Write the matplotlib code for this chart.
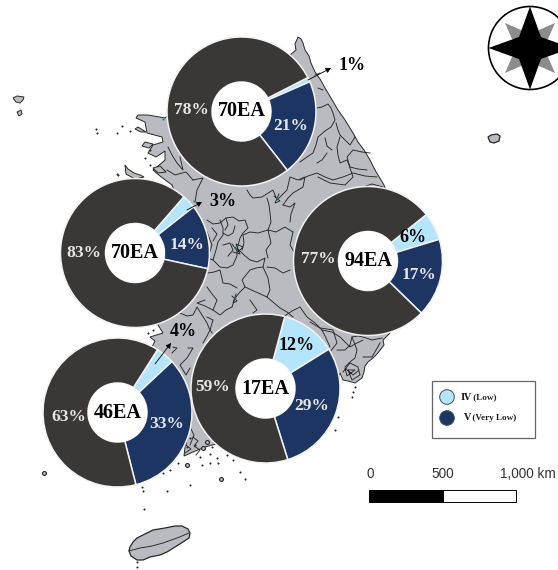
import matplotlib
matplotlib.use("Agg")
import matplotlib.pyplot as plt
from matplotlib.patches import Circle, Polygon, Rectangle

W, H = 558, 570

# donut values (%), one entry per region
regions = ["top", "left", "right", "low_left", "low_mid"]
ea_labels = ["70EA", "70EA", "94EA", "46EA", "17EA"]
low_pct = [1, 3, 6, 4, 12]
very_low_pct = [21, 14, 17, 33, 29]
other_pct = [78, 83, 77, 63, 59]

legend_labels = ["Ⅳ (Low)", "Ⅴ (Very Low)"]
scale_labels = ["0", "500", "1,000 km"]

# donut placement in picture pixels
centers = [(241.5, 111.5), (135, 253), (368, 261), (117.5, 412.5), (265.5, 388.5)]
start_angles = [27.1, 49, 38.5, 57.5, 75]
RADIUS = 74.5
HOLE = 29.5

low_pos = [(352, 66), (223, 202), (413, 237), (183, 332), (297, 345)]
very_low_pos = [(291, 126), (187, 245), (419, 275), (167, 424), (312, 406)]
other_pos = [(191, 110), (84, 253), (318, 259), (69, 417), (213, 387)]
arrows = [((308, 80), (331, 68)), ((187, 210), (202, 202)), ((155, 364), (171, 343))]

# base map traced by eye, picture pixels
mainland = [(298, 37), (301, 39), (303, 43), (305, 50), (309, 56), (311, 63), (315, 72), (320, 79), (325, 88),
            (331, 98), (338, 110), (345, 120), (353, 133), (358, 142), (364, 150), (370, 160), (375, 170),
            (384, 185), (395, 215), (400, 260), (398, 310), (390, 333), (386, 337), (383, 340),
            (384, 345), (381, 349), (377, 354), (373, 358), (368, 362), (365, 366), (364, 372), (362, 378),
            (355, 383), (348, 381), (343, 380), (340, 373),
            (320, 420), (300, 440), (230, 440), (205, 447), (193, 452), (184, 456), (187, 430),
            (170, 400), (155, 365), (152, 347), (155, 341), (150, 337), (163, 333), (158, 325),
            (165, 318), (175, 250), (178, 200), (172, 185), (160, 176), (153, 170), (157, 167),
            (165, 160), (165, 151), (156, 157), (148, 153), (153, 145), (163, 142), (162, 137),
            (147, 133), (145, 122), (136, 118), (138, 115), (148, 115), (165, 118), (200, 90),
            (290, 55), (296, 50), (295, 44)]
jeju = [(129, 551), (130, 547), (133, 542), (137, 538), (145, 534), (153, 530), (165, 528), (175, 526), (182, 526),
        (188, 529), (190, 533), (189, 538), (183, 542), (175, 547), (167, 552), (160, 555), (150, 557), (143, 560),
        (137, 560), (131, 556)]
ulleung = [(488, 137), (491, 135), (497, 134), (500, 136), (499, 141), (494, 143), (490, 142)]
nw_islands = [[(13, 98), (17, 96), (24, 97), (23, 100), (20, 103), (16, 102)],
              [(17, 112), (21, 110), (22, 114), (19, 116)],
              [(125, 165), (128, 169), (134, 173), (140, 175), (144, 177), (135, 179), (126, 174)],
              [(153, 168), (160, 166), (166, 172), (158, 173)],
              [(138, 127), (146, 132), (141, 132), (135, 129)],
              [(145, 142), (153, 144), (149, 148), (142, 146)]]

district_lines = [
    [(315, 75), (320, 73)], [(318, 88), (323, 90)],
    [(317, 108), (322, 107), (328, 104), (331, 108), (333, 113), (335, 120), (331, 127), (325, 131), (318, 137), (316, 145), (313, 153), (307, 157), (300, 162)],
    [(336, 123), (338, 130), (340, 135), (345, 140), (350, 145), (355, 137)],
    [(340, 137), (337, 147), (338, 155), (340, 163), (347, 160), (350, 167), (358, 169), (367, 170)],
    [(317, 163), (322, 160), (327, 153)], [(325, 138), (327, 146), (332, 150)],
    [(300, 180), (308, 176), (317, 173), (325, 177), (333, 180), (343, 177), (353, 173), (365, 176), (377, 177)],
    [(318, 177), (330, 183), (345, 185), (353, 177), (350, 168), (347, 157), (353, 150), (362, 152), (370, 153)],
    [(363, 187), (372, 184), (383, 187)],
    [(247, 190), (250, 195), (253, 198), (262, 197), (273, 190), (277, 200), (282, 195), (287, 190), (290, 177), (298, 180), (305, 177), (303, 187), (293, 193), (288, 198), (283, 205)],
    [(267, 198), (269, 205), (270, 213), (271, 222), (268, 230), (258, 233), (250, 232), (243, 235), (244, 243), (242, 250)],
    [(268, 230), (276, 232), (285, 227), (293, 232)], [(283, 205), (290, 207), (295, 203), (291, 214), (290, 222)],
    [(293, 232), (290, 245), (294, 252)], [(268, 230), (271, 243), (266, 250), (268, 258)],
    [(207, 220), (213, 224), (220, 223), (226, 218), (233, 217), (239, 221), (245, 220), (248, 228), (243, 233), (240, 238), (237, 249)],
    [(220, 220), (223, 228), (223, 235), (218, 242), (216, 250), (213, 260), (220, 267), (227, 268), (233, 265), (237, 256), (237, 249)],
    [(223, 233), (228, 236), (233, 233), (235, 226)], [(207, 232), (212, 245), (208, 258), (213, 260)],
    [(226, 218), (228, 225), (225, 230)], [(212, 228), (217, 234), (213, 241)], [(223, 245), (230, 243), (233, 250), (228, 256)],
    [(237, 249), (241, 252), (244, 255), (250, 260), (257, 262), (265, 258), (263, 267), (256, 268), (250, 270), (246, 275), (242, 280), (245, 287), (240, 292), (235, 298), (232, 307)],
    [(267, 267), (275, 268), (283, 273), (290, 270)],
    [(263, 267), (268, 278), (270, 290), (267, 297), (256, 292), (245, 287)],
    [(267, 297), (274, 303), (280, 308), (287, 312), (293, 317)], [(250, 300), (257, 310), (253, 313)],
    [(208, 273), (214, 272), (220, 270), (223, 283), (230, 284), (237, 288)],
    [(207, 287), (212, 294), (217, 300), (213, 310), (205, 306), (197, 303), (205, 300)], [(213, 310), (220, 315), (226, 310), (232, 307)],
    [(283, 317), (292, 311), (300, 307), (307, 317), (315, 323), (322, 330), (326, 338), (330, 347)],
    [(322, 330), (332, 332), (340, 337), (350, 347), (357, 343), (363, 340)],
    [(310, 322), (320, 328), (327, 329), (333, 330), (337, 343), (330, 352)],
    [(337, 350), (345, 350), (350, 345), (352, 337), (358, 336), (363, 337), (372, 340), (382, 338)],
    [(352, 337), (357, 350), (355, 358), (350, 362), (345, 367)],
    [(363, 357), (372, 357), (376, 350), (380, 343)],
    [(343, 372), (350, 363), (358, 367), (360, 375), (352, 380), (348, 370), (355, 370), (347, 376), (345, 368), (353, 375), (358, 371)],
    [(180, 313), (187, 316), (193, 315), (197, 307), (202, 315), (207, 323), (209, 328), (212, 333)],
    [(203, 343), (207, 336), (210, 330), (213, 320), (207, 317)],
    [(188, 348), (193, 348), (187, 358), (180, 365), (186, 375), (190, 368)], [(173, 347), (177, 348), (172, 353)],
    [(193, 180), (203, 178), (197, 190), (195, 202)], [(168, 147), (172, 155), (177, 163), (183, 170), (180, 157)],
    [(167, 170), (175, 175), (186, 172), (193, 180)], [(192, 410), (189, 425), (194, 435), (190, 445)],
    [(184, 440), (188, 433), (186, 445), (191, 449), (185, 453)], [(193, 437), (198, 441), (194, 446), (200, 450), (196, 455)],
    [(232, 244), (238, 252), (243, 247), (236, 244), (240, 254), (233, 252)], [(232, 296), (237, 301), (233, 303), (236, 294)],
    [(274, 196), (280, 201), (275, 203), (279, 194)],
]
jeju_line = [(129, 551), (140, 548), (152, 546), (163, 543), (177, 538), (189, 533)]
big_islets = [(221, 479), (187, 465), (44, 473), (203, 448), (207, 442)]
small_islets = [(96, 129), (97, 133), (117, 133), (122, 126), (130, 131), (150, 150), (145, 158), (150, 165),
                (118, 175), (117, 174), (122, 180), (167, 491), (144, 509), (143, 491), (178, 463), (170, 470),
                (163, 473), (190, 485), (142, 487), (210, 463), (217, 458), (227, 455), (233, 460), (240, 472),
                (245, 479), (202, 465), (210, 454), (218, 463), (137, 567), (137, 562), (355, 387), (353, 392),
                (352, 397), (338, 417), (335, 430), (190, 438), (187, 447), (195, 445), (200, 457), (212, 447),
                (153, 330), (148, 333)]
teal_spots = [(235, 247), (235, 298), (277, 198), (194, 201), (163, 119)]

C_DARK = "#3A3836"
C_NAVY = "#1D3563"
C_LIGHT = "#B5E5FD"
C_LAND = "#B9BBC0"
C_LINE = "#262626"

SERIF = ["Liberation Serif", "DejaVu Serif"]


def py(y):
    # picture y (down) to axes y (up)
    return H - y


def pts(seq):
    return [(x, py(y)) for x, y in seq]


fig = plt.figure(figsize=(W / 100, H / 100), dpi=100, facecolor="white")
ax = fig.add_axes([0, 0, 1, 1])

# ---------- base map ----------
ax.add_patch(Polygon(pts(mainland), closed=True, fc=C_LAND, ec=C_LINE, lw=0.7, zorder=1))
ax.add_patch(Polygon(pts(jeju), closed=True, fc=C_LAND, ec=C_LINE, lw=0.9, zorder=1))
ax.add_patch(Polygon(pts(ulleung), closed=True, fc=C_LAND, ec=C_LINE, lw=0.9, zorder=1))
for isl in nw_islands:
    ax.add_patch(Polygon(pts(isl), closed=True, fc=C_LAND, ec=C_LINE, lw=0.7, zorder=1))
for line in district_lines + [jeju_line]:
    xs, ys = zip(*pts(line))
    ax.plot(xs, ys, color=C_LINE, lw=0.65, zorder=2)
xs, ys = zip(*pts(big_islets))
ax.plot(xs, ys, ls="none", marker="o", ms=2.8, mfc=C_LAND, mec=C_LINE, mew=0.8, zorder=2)
xs, ys = zip(*pts(small_islets))
ax.plot(xs, ys, ls="none", marker="o", ms=1.2, mfc=C_LINE, mec=C_LINE, mew=0.2, zorder=2)
xs, ys = zip(*pts(teal_spots))
ax.plot(xs, ys, ls="none", marker="s", ms=1.5, mfc="#1E8C8C", mec="none", zorder=3)

# ---------- donuts ----------
for i, name in enumerate(regions):
    cx, cy = centers[i]
    wedges, _ = ax.pie([low_pct[i], very_low_pct[i], other_pct[i]],
                       colors=[C_LIGHT, C_NAVY, C_DARK],
                       center=(cx, py(cy)), radius=RADIUS,
                       startangle=start_angles[i], counterclock=False,
                       wedgeprops={"width": RADIUS - HOLE, "edgecolor": "#F2F2F2", "linewidth": 1.1})
    for w in wedges:
        w.set_zorder(4)
    # the hole hides the map in the reference
    ax.add_patch(Circle((cx, py(cy)), HOLE, fc="white", ec="none", zorder=5))
    ax.text(cx, py(cy), ea_labels[i], family=SERIF, weight="bold", fontsize=14.5,
            ha="center", va="center", color="black", zorder=6)
    ax.text(other_pos[i][0], py(other_pos[i][1]), f"{other_pct[i]}%", family=SERIF, weight="bold",
            fontsize=12.5, ha="center", va="center", color="#E6E6E6", zorder=6)
    ax.text(very_low_pos[i][0], py(very_low_pos[i][1]), f"{very_low_pct[i]}%", family=SERIF, weight="bold",
            fontsize=12.5, ha="center", va="center", color="#E6E6E6", zorder=6)
    ax.text(low_pos[i][0], py(low_pos[i][1]), f"{low_pct[i]}%", family=SERIF, weight="bold",
            fontsize=13, ha="center", va="center", color="black", zorder=6)

for start, end in arrows:
    ax.annotate("", xy=(end[0], py(end[1])), xytext=(start[0], py(start[1])), zorder=7,
                arrowprops={"arrowstyle": "-|>,head_width=0.16,head_length=0.3", "color": "black",
                            "lw": 0.6, "shrinkA": 0, "shrinkB": 0})

# ---------- compass ----------
NX, NY = 530, 48
ax.add_patch(Circle((NX, py(NY)), 41.5, fc="white", ec="black", lw=1.2, zorder=4))
for sx, sy in [(1, 1), (1, -1), (-1, 1), (-1, -1)]:
    ax.add_patch(Polygon([(NX + sx * 6, py(NY) + sy * 6), (NX + sx * 18, py(NY) + sy * 9),
                          (NX + sx * 25, py(NY) + sy * 25), (NX + sx * 9, py(NY) + sy * 18)],
                         closed=True, fc="#8C8C8C", ec="none", zorder=5))
arm, neck = 41.5, 11
star = [(0, arm), (neck, neck), (arm, 0), (neck, -neck), (0, -arm), (-neck, -neck), (-arm, 0), (-neck, neck)]
ax.add_patch(Polygon([(NX + a, py(NY) + b) for a, b in star], closed=True, fc="black", ec="none", zorder=6))

# ---------- legend ----------
ax.add_patch(Rectangle((432, py(438)), 103, 57, fc="white", ec="#666666", lw=0.9, zorder=4))
ax.add_patch(Circle((447, py(397)), 7.3, fc=C_LIGHT, ec="#3A5060", lw=0.7, zorder=5))
ax.add_patch(Circle((447, py(418)), 7.3, fc=C_NAVY, ec="#3A5060", lw=0.7, zorder=5))
ax.text(461, py(396.5), legend_labels[0], family=SERIF, weight="bold", fontsize=6.6, ha="left", va="center", color="#222222", zorder=6)
ax.text(463, py(418), legend_labels[1], family=SERIF, weight="bold", fontsize=6.6, ha="left", va="center", color="#222222", zorder=6)

# ---------- scale bar ----------
ax.add_patch(Rectangle((369, py(502)), 74, 12, fc="black", ec="black", lw=0.7, zorder=4))
ax.add_patch(Rectangle((443, py(502)), 73, 12, fc="white", ec="black", lw=0.7, zorder=4))
for x, lab in zip([370, 443, 528], scale_labels):
    ax.text(x, py(474), lab, family="Liberation Sans", fontsize=9.8, ha="center", va="center", color="#333333", zorder=6)

ax.set_xlim(0, W)
ax.set_ylim(0, H)
ax.set_aspect("auto")
ax.axis("off")

fig.savefig("out.png", dpi=100, facecolor="white")
